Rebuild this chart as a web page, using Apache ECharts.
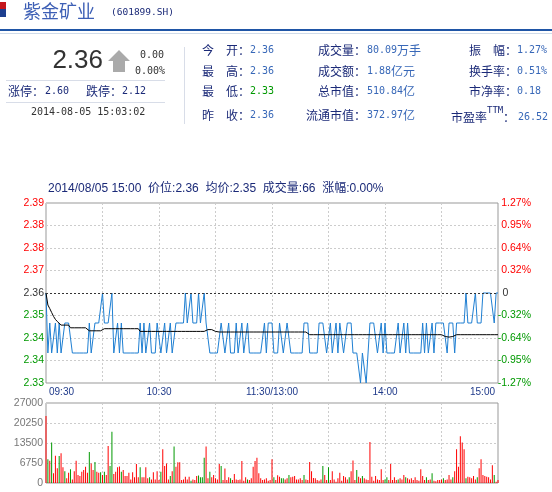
<!DOCTYPE html>
<html><head><meta charset="utf-8">
<script src="https://cdn.jsdelivr.net/npm/echarts@6/dist/echarts.min.js"></script>
<style>html,body{margin:0;padding:0;background:#fff}#c{width:552px;height:492px}</style>
</head><body><div id="c"></div>
<script>
// ---------------- data ----------------
const stockName = '紫金矿业';
const stockCode = '(601899.SH)';
const prevClose = 2.36;
const lastPrice = '2.36';
const change = '0.00';
const changePct = '0.00%';
const limitUp = '2.60';
const limitDown = '2.12';
const quoteTime = '2014-08-05 15:03:02';
const col1Labels = ['今　开：', '最　高：', '最　低：', '昨　收：'];
const col1Values = ['2.36', '2.36', '2.33', '2.36'];
const col2Labels = ['成交量：', '成交额：', '总市值：', '流通市值：'];
const col2Nums = ['80.09', '1.88', '510.84', '372.97'];
const col2Units = ['万手', '亿元', '亿', '亿'];
const col3Labels = ['振　幅：', '换手率：', '市净率：'];
const col3Values = ['1.27%', '0.51%', '0.18'];
const peLabel = '市盈率';
const peSup = 'TTM';
const peValue = '26.52';
const infoLine = '2014/08/05 15:00  价位:2.36  均价:2.35  成交量:66  涨幅:0.00%';

const priceTickLabels = ['2.33', '2.34', '2.34', '2.35', '2.36', '2.37', '2.38', '2.38', '2.39'];
const pctTickLabels = ['-1.27%', '-0.95%', '-0.64%', '-0.32%', '0', '0.32%', '0.64%', '0.95%', '1.27%'];
const volTickLabels = ['0', '6750', '13500', '20250', '27000'];
const volTicks = { min: 0, max: 27000, step: 6750 };
const xTickLabels = { '09:30': '09:30', '10:30': '10:30', '11:30': '11:30/13:00', '14:00': '14:00', '15:00': '15:00' };

// minute categories 09:30..11:30, 13:01..15:00
const times = [];
function pad(n) { return (n < 10 ? '0' : '') + n; }
for (let m = 9 * 60 + 30; m <= 11 * 60 + 30; m++) times.push(pad(Math.floor(m / 60)) + ':' + pad(m % 60));
for (let m = 13 * 60 + 1; m <= 15 * 60; m++) times.push(pad(Math.floor(m / 60)) + ':' + pad(m % 60));

const price = [
2.36,2.34,2.35,2.34,2.34,2.35,2.34,2.35,2.34,2.34,
2.35,2.35,2.35,2.35,2.34,2.34,2.34,2.34,2.34,2.34,
2.34,2.34,2.34,2.35,2.34,2.34,2.35,2.35,2.35,2.35,
2.36,2.35,2.35,2.35,2.35,2.36,2.34,2.34,2.35,2.34,
2.35,2.34,2.34,2.34,2.34,2.34,2.34,2.34,2.34,2.34,
2.35,2.34,2.35,2.34,2.34,2.35,2.34,2.34,2.34,2.35,
2.35,2.34,2.34,2.35,2.34,2.34,2.35,2.34,2.34,2.35,
2.35,2.35,2.35,2.35,2.36,2.35,2.35,2.36,2.35,2.35,
2.35,2.36,2.35,2.35,2.36,2.35,2.35,2.34,2.34,2.34,
2.34,2.34,2.34,2.35,2.35,2.34,2.34,2.35,2.34,2.34,
2.34,2.35,2.34,2.34,2.35,2.34,2.34,2.35,2.34,2.34,
2.34,2.34,2.34,2.34,2.34,2.34,2.35,2.34,2.35,2.35,
2.35,
2.34,2.34,2.34,2.35,2.35,2.34,2.34,2.35,2.35,2.34,
2.34,2.34,2.34,2.34,2.34,2.34,2.35,2.35,2.35,2.34,
2.34,2.34,2.34,2.34,2.35,2.35,2.35,2.35,2.34,2.34,
2.35,2.34,2.34,2.35,2.34,2.35,2.35,2.34,2.34,2.35,
2.35,2.35,2.34,2.34,2.34,2.34,2.33,2.34,2.34,2.33,
2.34,2.35,2.35,2.35,2.35,2.34,2.34,2.35,2.34,2.35,
2.34,2.34,2.34,2.34,2.34,2.34,2.35,2.34,2.34,2.35,
2.34,2.35,2.34,2.34,2.34,2.34,2.34,2.34,2.34,2.35,
2.34,2.35,2.34,2.34,2.35,2.34,2.35,2.35,2.35,2.35,
2.35,2.35,2.34,2.35,2.35,2.35,2.34,2.35,2.35,2.35,
2.35,2.35,2.36,2.35,2.35,2.35,2.35,2.36,2.35,2.35,
2.35,2.36,2.36,2.36,2.36,2.36,2.36,2.35,2.36,2.36
];

const avgPrice = [
2.3600,2.3560,2.3548,2.3535,2.3522,2.3512,2.3505,2.3500,2.3493,2.3493,
2.3493,2.3493,2.3493,2.3484,2.3484,2.3484,2.3484,2.3484,2.3484,2.3484,
2.3484,2.3484,2.3484,2.3474,2.3474,2.3474,2.3474,2.3474,2.3474,2.3474,
2.3478,2.3481,2.3481,2.3481,2.3481,2.3481,2.3481,2.3481,2.3481,2.3481,
2.3481,2.3481,2.3481,2.3481,2.3481,2.3481,2.3481,2.3481,2.3481,2.3481,
2.3472,2.3472,2.3472,2.3472,2.3472,2.3472,2.3472,2.3472,2.3472,2.3472,
2.3472,2.3472,2.3472,2.3472,2.3472,2.3472,2.3472,2.3472,2.3472,2.3472,
2.3472,2.3472,2.3472,2.3472,2.3472,2.3472,2.3472,2.3472,2.3472,2.3472,
2.3472,2.3472,2.3472,2.3472,2.3472,2.3476,2.3478,2.3478,2.3478,2.3475,
2.3472,2.3470,2.3470,2.3470,2.3470,2.3470,2.3470,2.3470,2.3470,2.3470,
2.3470,2.3470,2.3470,2.3470,2.3470,2.3470,2.3470,2.3470,2.3470,2.3470,
2.3470,2.3470,2.3470,2.3470,2.3470,2.3470,2.3470,2.3470,2.3470,2.3470,
2.3470,
2.3470,2.3470,2.3470,2.3470,2.3470,2.3470,2.3470,2.3470,2.3470,2.3470,
2.3470,2.3470,2.3470,2.3470,2.3470,2.3470,2.3470,2.3470,2.3465,2.3461,
2.3461,2.3461,2.3461,2.3461,2.3461,2.3461,2.3461,2.3461,2.3461,2.3461,
2.3461,2.3461,2.3461,2.3461,2.3461,2.3461,2.3461,2.3461,2.3461,2.3461,
2.3461,2.3461,2.3461,2.3461,2.3461,2.3461,2.3461,2.3461,2.3461,2.3461,
2.3461,2.3461,2.3461,2.3461,2.3461,2.3461,2.3461,2.3461,2.3461,2.3461,
2.3461,2.3461,2.3461,2.3461,2.3461,2.3461,2.3461,2.3461,2.3461,2.3461,
2.3461,2.3461,2.3461,2.3461,2.3461,2.3461,2.3461,2.3461,2.3461,2.3461,
2.3461,2.3461,2.3461,2.3461,2.3461,2.3461,2.3461,2.3461,2.3461,2.3461,
2.3458,2.3455,2.3453,2.3453,2.3453,2.3455,2.3458,2.3461,2.3461,2.3461,
2.3461,2.3461,2.3461,2.3461,2.3461,2.3461,2.3461,2.3461,2.3461,2.3461,
2.3461,2.3461,2.3461,2.3461,2.3461,2.3461,2.3461,2.3461,2.3461,2.3461
];

const volume = [
22600,8000,7500,13700,3300,9200,5000,9100,10000,5300,
4000,1600,3500,4600,1200,4000,7500,2700,2400,3800,
4400,5500,3500,10500,6600,4400,7100,3800,3500,3600,
2700,3800,2700,12500,5700,17300,3000,3800,5300,5600,
3800,4400,2400,2400,3500,1200,3600,1900,6400,1900,
5300,1900,1900,5300,1600,1900,1200,3600,1200,4000,
1000,3800,11400,5700,6600,1200,2400,4000,12300,5500,
7000,7000,1000,1200,2100,1200,2100,800,1200,1000,
2400,2500,1900,1900,8500,12300,1600,3800,1900,2700,
1600,1200,6400,5700,1000,4900,1000,1900,1600,1000,
3000,1200,1000,1200,7400,800,1900,1200,1000,1600,
5500,7400,8500,3300,1600,1000,1200,1600,800,1000,
8000,
1900,1000,2600,2100,1600,1600,1200,1600,2700,1900,
2100,2400,1200,1200,1600,1000,2700,1200,1000,7100,
4000,1700,1600,1000,800,1200,5700,2700,1000,5300,
1000,4000,1200,450,1600,3500,800,2400,1900,1200,
1900,4000,7600,1000,4400,2100,1600,2400,1600,1200,
1000,13800,2100,800,2400,1200,1000,4600,1000,1200,
1900,1000,6400,1000,1900,1000,1200,1600,1200,2700,
1900,1600,1200,1600,1000,1900,1000,800,4600,2400,
1000,1900,1000,1200,3300,800,560,1000,1000,1200,
1600,1000,1200,2700,1200,1900,4000,11400,5500,15750,
13700,11400,1600,2100,1900,1600,2400,1200,1900,5000,
8000,2700,2400,2100,1900,1200,6000,2700,450,1000
];
// 1 = up (red), 0 = down (green)
const volumeDir = (
'1010111011' + '0110111111' + '1110110110' + '1011001111' + '0111111111' + '0111101111' +
'1011110101' + '1111111011' + '1000011011' + '1110111101' + '1111111011' + '11111111111' +
'0111001101' + '1111110111' + '1111110110' + '1111111111' + '0111011011' + '1111111110' +
'0111110111' + '0111111111' + '1011011111' + '0111101111' + '1101111101' + '1111111011'
).split('');

// ---------------- styles ----------------
const RED = '#ff0000', GREEN = '#009900', NAVY = '#1b2a78', VBLUE = '#3868b8';
const MONO = '"DejaVu Sans Mono", monospace';
const CJK = '"Noto Sans CJK SC", sans-serif';
const SANS = '"Liberation Sans", Arial, "Noto Sans CJK SC", sans-serif';

const span = 0.03, step = 0.0075;
const G1 = { left: 46, top: 203, width: 452, height: 180 };
const G2 = { left: 46, top: 403, width: 452, height: 80 };

function txt(x, y, text, font, fill, align) {
  return { type: 'text', x: x, y: y, silent: true,
    style: { text: text, font: font, fill: fill, textAlign: align || 'left', textVerticalAlign: 'middle' } };
}

const graphics = [
  { type: 'rect', shape: { x: 0, y: 2, width: 6, height: 7 }, style: { fill: '#c4161c' } },
  { type: 'rect', shape: { x: 0, y: 9, width: 6, height: 8 }, style: { fill: '#1d3f8f' } },
  txt(23, 11, stockName, '18px ' + CJK, '#3d5fb5'),
  txt(111, 13, stockCode, '9.5px ' + MONO, NAVY),
  { type: 'rect', shape: { x: 0, y: 29, width: 552, height: 2 }, style: { fill: '#1f55a6' } },
  { type: 'rect', shape: { x: 0, y: 33, width: 552, height: 1 }, style: { fill: '#cfdbea' } },
  txt(103, 61, lastPrice, '26px ' + SANS, '#333333', 'right'),
  { type: 'polygon', shape: { points: [[119, 50], [130, 61], [125, 61], [125, 72], [113, 72], [113, 61], [108, 61]] }, style: { fill: '#aaaaaa' } },
  txt(164, 55, change, '10px ' + MONO, '#333333', 'right'),
  txt(165, 71, changePct, '10px ' + MONO, '#333333', 'right'),
  { type: 'rect', shape: { x: 6, y: 80, width: 159, height: 1 }, style: { fill: '#d8dde8' } },
  txt(8, 91, '涨停：', '12px ' + CJK, NAVY),
  txt(45, 91, limitUp, '10px ' + MONO, NAVY),
  txt(86, 91, '跌停：', '12px ' + CJK, NAVY),
  txt(122, 91, limitDown, '10px ' + MONO, NAVY),
  { type: 'rect', shape: { x: 6, y: 102, width: 159, height: 1 }, style: { fill: '#d8dde8' } },
  txt(31, 112, quoteTime, '10px ' + MONO, '#333333'),
  { type: 'rect', shape: { x: 184, y: 47, width: 1, height: 77 }, style: { fill: '#d8dde8' } },
  txt(48, 189, infoLine, '12px ' + SANS, NAVY)
];
const rowsY = [50, 71, 91, 115];
col1Labels.forEach((l, i) => {
  graphics.push(txt(202, rowsY[i], l, '12px ' + CJK, NAVY));
  graphics.push(txt(250, rowsY[i], col1Values[i], '10px ' + MONO, i === 2 ? GREEN : VBLUE));
});
col2Labels.forEach((l, i) => {
  graphics.push(txt(366, rowsY[i], l, '12px ' + CJK, NAVY, 'right'));
  graphics.push({ type: 'text', x: 367, y: rowsY[i], silent: true, style: {
    text: '{n|' + col2Nums[i] + '}{u|' + col2Units[i] + '}', textVerticalAlign: 'middle',
    rich: { n: { font: '10px ' + MONO, fill: VBLUE }, u: { font: '12px ' + CJK, fill: VBLUE } } } });
});
col3Labels.forEach((l, i) => {
  graphics.push(txt(469, rowsY[i], l, '12px ' + CJK, NAVY));
  graphics.push(txt(517, rowsY[i], col3Values[i], '10px ' + MONO, VBLUE));
});
graphics.push(txt(451, 117, peLabel, '12px ' + CJK, NAVY));
graphics.push(txt(487, 111, peSup, '9px ' + MONO, NAVY));
graphics.push(txt(503, 117, '：', '12px ' + CJK, NAVY));
graphics.push(txt(518, 117, peValue, '10px ' + MONO, VBLUE));

const gridLine = { show: true, lineStyle: { color: '#cccccc', type: [2, 2], width: 1 } };
const vSplit = { show: true, interval: (i) => i % 30 === 0 && i > 0 && i < times.length - 1, lineStyle: { color: '#cccccc', type: [2, 2], width: 1 } };
const LF = { fontSize: 10.5, fontFamily: 'Liberation Sans' };
function tickIndex(v) { return Math.round((v + span) / step); }
function colorTag(k) { return k > 4 ? 'r' : (k < 4 ? 'g' : 'k'); }

const option = {
  animation: false,
  backgroundColor: '#ffffff',
  graphic: graphics,
  grid: [
    Object.assign({ show: true, borderColor: '#999999', borderWidth: 1, backgroundColor: '#fff', containLabel: false, outerBoundsMode: 'none' }, G1),
    Object.assign({ show: true, borderColor: '#999999', borderWidth: 1, backgroundColor: '#fff', containLabel: false, outerBoundsMode: 'none' }, G2)
  ],
  xAxis: [
    { type: 'category', gridIndex: 0, data: times, boundaryGap: false,
      axisLine: { show: false }, axisTick: { show: false }, splitLine: vSplit,
      axisLabel: { show: true, interval: (i, v) => xTickLabels[v] !== undefined, formatter: (v) => xTickLabels[v] || '',
        color: '#1f3a8a', fontSize: 10, fontFamily: 'Liberation Sans', margin: 4, padding: [0, 3, 0, 3],
        alignMinLabel: 'left', alignMaxLabel: 'right', hideOverlap: false } },
    { type: 'category', gridIndex: 1, data: times, boundaryGap: false,
      axisLine: { show: false }, axisTick: { show: false }, splitLine: vSplit, axisLabel: { show: false } }
  ],
  yAxis: [
    { type: 'value', gridIndex: 0, min: -span, max: span, interval: step, position: 'left',
      axisLine: { show: false }, axisTick: { show: false }, splitLine: gridLine,
      axisLabel: Object.assign({ margin: 2,
        formatter: (v) => { const k = tickIndex(v); return '{' + colorTag(k) + '|' + priceTickLabels[k] + '}'; },
        rich: { r: Object.assign({ color: RED }, LF), g: Object.assign({ color: GREEN }, LF), k: Object.assign({ color: '#333' }, LF) } }, LF) },
    { type: 'value', gridIndex: 0, min: -span, max: span, interval: step, position: 'right',
      axisLine: { show: false }, axisTick: { show: false }, splitLine: { show: false },
      axisLabel: Object.assign({ margin: 33, align: 'right',
        formatter: (v) => { const k = tickIndex(v); return '{' + colorTag(k) + '|' + pctTickLabels[k] + '}'; },
        rich: { r: Object.assign({ color: RED }, LF), g: Object.assign({ color: GREEN }, LF), k: Object.assign({ color: '#333', width: 28.5, align: 'left' }, LF) } }, LF) },
    { type: 'value', gridIndex: 1, min: volTicks.min, max: volTicks.max, interval: volTicks.step,
      axisLine: { show: false }, axisTick: { show: false }, splitLine: gridLine,
      axisLabel: Object.assign({ margin: 3, color: '#777777',
        formatter: (v) => volTickLabels[Math.round((v - volTicks.min) / volTicks.step)] }, LF) }
  ],
  series: [
    { type: 'line', xAxisIndex: 0, yAxisIndex: 0, data: price.map(p => +(p - prevClose).toFixed(4)),
      symbol: 'none', lineStyle: { color: '#1f7fd2', width: 1 }, z: 3,
      markLine: { silent: true, symbol: 'none', label: { show: false },
        lineStyle: { color: '#333333', type: [2, 2], width: 1 }, data: [{ yAxis: 0 }] } },
    { type: 'line', xAxisIndex: 0, yAxisIndex: 0, data: avgPrice.map(p => +(p - prevClose).toFixed(5)),
      symbol: 'none', lineStyle: { color: '#000000', width: 1 }, z: 4 },
    { type: 'bar', xAxisIndex: 1, yAxisIndex: 2, barWidth: 1,
      data: volume.map((v, i) => ({ value: v, itemStyle: { color: volumeDir[i] === '1' ? RED : GREEN } })) }
  ]
};
const chart = echarts.init(document.getElementById('c'), null, { renderer: 'canvas' });
chart.setOption(option);
</script></body></html>
